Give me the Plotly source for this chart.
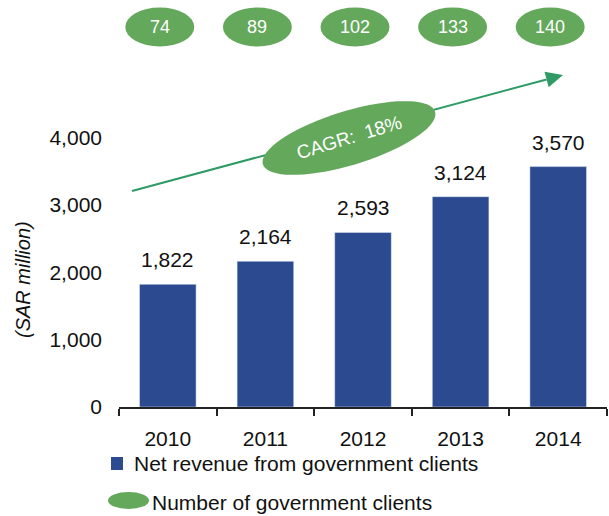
import numpy as np
import plotly.graph_objects as go

years = ["2010", "2011", "2012", "2013", "2014"]
revenue = [1822, 2164, 2593, 3124, 3570]
clients = [74, 89, 102, 133, 140]
y_ticks = [0, 1000, 2000, 3000, 4000]
y_tick_text = ["0", "1,000", "2,000", "3,000", "4,000"]
cagr_text = "CAGR:  18%"
y_title = "(SAR million)"
legend_bar = "Net revenue from government clients"
legend_ell = "Number of government clients"

W, H = 609, 516
ML, MR, MT, MB = 119, 2, 3, 109
PW = W - ML - MR
PH = H - MT - MB
YMAX = 6000

BLUE = "#2C4A8F"
GREEN = "#63A85B"
ARROW = "#2E9B65"
FONT = "Liberation Sans, Arial, sans-serif"
FS = 21


def px(xp):
    return (xp - ML) / PW


def py(yp):
    return (H - MB - yp) / PH


def cat_px(i):
    return ML + (i + 0.5) * PW / len(years)


def ellipse_path(cx, cy, a, b, ang_deg, n=72):
    t = np.linspace(0, 2 * np.pi, n)
    th = np.deg2rad(ang_deg)
    xs = cx + a * np.cos(t) * np.cos(th) - b * np.sin(t) * np.sin(th)
    ys = cy + a * np.cos(t) * np.sin(th) + b * np.sin(t) * np.cos(th)
    pts = [f"{px(x):.5f},{py(y):.5f}" for x, y in zip(xs, ys)]
    return "M" + " L".join(pts) + " Z"


def label(xp, yp, text, size=FS, color="#111111", xanchor="center", angle=0):
    return dict(x=px(xp), y=py(yp), xref="paper", yref="paper", text=text,
                showarrow=False, xanchor=xanchor, yanchor="middle",
                textangle=angle, font=dict(size=size, color=color, family=FONT))


fig = go.Figure()
fig.add_trace(go.Bar(x=years, y=revenue, marker_color=BLUE, width=0.58,
                     showlegend=False, hoverinfo="x+y"))

shapes = []
annotations = []

# value labels above bars
for i, v in enumerate(revenue):
    annotations.append(dict(x=i, y=v, xref="x", yref="y", text=f"{v:,}",
                            showarrow=False, xanchor="center", yanchor="bottom",
                            yshift=11,
                            font=dict(size=FS, color="#111111", family=FONT)))

# client ellipses on top
for i, c in enumerate(clients):
    cx = cat_px(i) - 8
    cy = 27
    shapes.append(dict(type="circle", xref="paper", yref="paper",
                       x0=px(cx - 34.5), x1=px(cx + 34.5),
                       y0=py(cy + 19.5), y1=py(cy - 19.5),
                       fillcolor=GREEN, line=dict(width=0), layer="above"))
    annotations.append(label(cx, cy, str(c), size=18, color="white"))

# CAGR arrow (line + head) below ellipse
x0a, y0a, x1a, y1a = 132, 191, 563, 75
ang = np.arctan2(y1a - y0a, x1a - x0a)
hl, hw = 17, 8
bx, by = x1a - hl * np.cos(ang), y1a - hl * np.sin(ang)
shapes.append(dict(type="line", xref="paper", yref="paper",
                   x0=px(x0a), y0=py(y0a), x1=px(bx), y1=py(by),
                   line=dict(color=ARROW, width=2), layer="above"))
p1 = (bx - hw * np.sin(ang), by + hw * np.cos(ang))
p2 = (bx + hw * np.sin(ang), by - hw * np.cos(ang))
shapes.append(dict(type="path", xref="paper", yref="paper",
                   path=f"M{px(x1a):.5f},{py(y1a):.5f} L{px(p1[0]):.5f},{py(p1[1]):.5f} "
                        f"L{px(p2[0]):.5f},{py(p2[1]):.5f} Z",
                   fillcolor=ARROW, line=dict(width=0), layer="above"))
# CAGR ellipse
shapes.append(dict(type="path", xref="paper", yref="paper",
                   path=ellipse_path(349, 138, 90, 27, -17),
                   fillcolor=GREEN, line=dict(width=0), layer="above"))
annotations.append(label(349, 138, cagr_text, size=19, color="white", angle=-17))

# y-axis title
annotations.append(label(23, 280, f"<i>{y_title}</i>", size=20, angle=-90))

# legend
shapes.append(dict(type="rect", xref="paper", yref="paper",
                   x0=px(111), x1=px(123), y0=py(470), y1=py(457),
                   fillcolor=BLUE, line=dict(width=0)))
annotations.append(label(132, 463, legend_bar, xanchor="left"))
shapes.append(dict(type="circle", xref="paper", yref="paper",
                   x0=px(108), x1=px(149), y0=py(509), y1=py(492),
                   fillcolor=GREEN, line=dict(width=0)))
annotations.append(label(150, 502, legend_ell, xanchor="left"))

fig.update_layout(
    width=W, height=H,
    margin=dict(l=ML, r=MR, t=MT, b=MB, pad=0, autoexpand=False),
    paper_bgcolor="white", plot_bgcolor="white",
    showlegend=False,
    bargap=0.42,
    font=dict(family=FONT, size=FS, color="#111111"),
    xaxis=dict(type="category", range=[-0.5, 4.5], showline=True,
               linecolor="#222222", linewidth=1.5, ticks="outside",
               tickson="boundaries", ticklen=7, tickwidth=1.5,
               tickcolor="#222222", showgrid=False, zeroline=False,
               ticklabelstandoff=12, automargin=False,
               tickfont=dict(size=FS, color="#111111", family=FONT)),
    yaxis=dict(range=[0, YMAX], tickvals=y_ticks, ticktext=y_tick_text,
               showgrid=False, zeroline=False, showline=False, ticks="",
               ticklabelstandoff=16, automargin=False,
               tickfont=dict(size=FS, color="#111111", family=FONT)),
    shapes=shapes,
    annotations=annotations,
)

fig.write_html(
    "out.html",
    config={"displayModeBar": False},
    post_script="document.body.style.margin='0';document.body.style.padding='0';"
                "document.body.style.overflow='hidden';",
)
